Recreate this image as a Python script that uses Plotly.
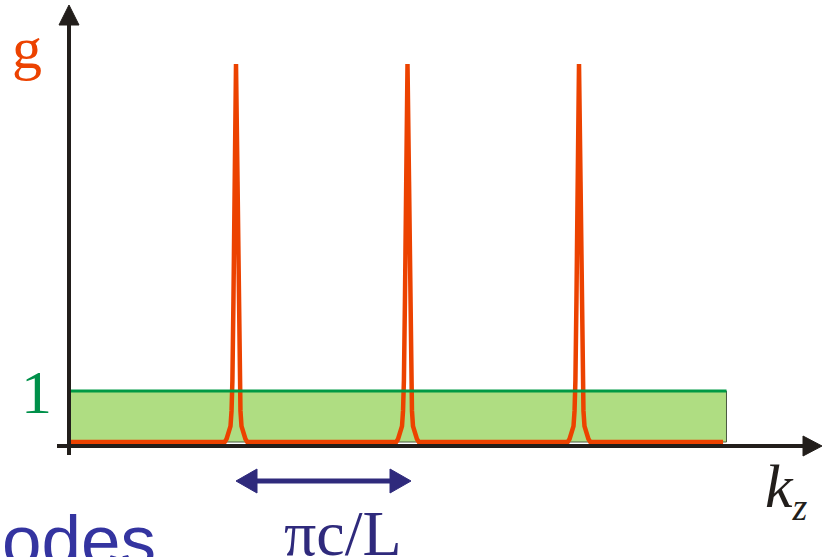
import plotly.graph_objects as go

# ---- data ----
peak_centers = [1.0, 2.0, 3.0]                      # mode positions in units of pi*c/L
profile_dk = [-0.066, -0.055, -0.044, -0.032, -0.026, -0.021, -0.015, -0.009, 0.0,
              0.009, 0.015, 0.021, 0.026, 0.032, 0.044, 0.055, 0.066]
profile_g = [0.0, 0.06, 0.16, 0.31, 0.61, 1.2, 2.76, 5.1, 7.41,
             5.1, 2.76, 1.2, 0.61, 0.31, 0.16, 0.06, 0.0]
band_k = [0.02, 3.86]       # gain band extent
band_g = 1.0                # gain level "1"
base_k = [0.02, 3.84]       # red baseline extent

W, H = 822, 557
PX_PER_K = 171.5
PX_PER_G = 51.0
K0_PX = 236 - PX_PER_K      # pixel x of k=0
G0_PX = 442                 # pixel y of g=0

def k(px):
    return (px - K0_PX) / PX_PER_K

def g(py):
    return (G0_PX - py) / PX_PER_G

RED = "#EC4200"
GREEN_TXT = "#00904A"
NAVY = "#2F2A7C"
BLACK = "#221E1B"

# build red curve: baseline with the three sharp peaks
cx, cy = [base_k[0]], [0.0]
for c in peak_centers:
    for dk, gv in zip(profile_dk, profile_g):
        cx.append(c + dk)
        cy.append(gv)
cx.append(base_k[1]); cy.append(0.0)

fig = go.Figure()

# green gain band
fig.add_shape(type="rect", x0=band_k[0], x1=band_k[1], y0=0, y1=band_g,
              fillcolor="#AFDD82", line=dict(color="#4A5A40", width=1), layer="below")
fig.add_shape(type="line", x0=band_k[0], x1=band_k[1], y0=band_g, y1=band_g,
              line=dict(color="#009A44", width=3))

fig.add_trace(go.Scatter(x=cx, y=cy, mode="lines",
                         line=dict(color=RED, width=4.5), hoverinfo="skip", showlegend=False))

# axes (drawn arrows)
ax_y = g(446)
fig.add_shape(type="line", x0=k(57), x1=k(805), y0=ax_y, y1=ax_y,
              line=dict(color=BLACK, width=4))
fig.add_shape(type="path",
              path=f"M {k(803)} {g(436)} L {k(822)} {ax_y} L {k(803)} {g(456)} Z",
              fillcolor=BLACK, line=dict(color=BLACK, width=1))
ax_x = k(69)
fig.add_shape(type="line", x0=ax_x, x1=ax_x, y0=g(455), y1=g(23),
              line=dict(color=BLACK, width=4))
fig.add_shape(type="path",
              path=f"M {k(59)} {g(25)} L {ax_x} {g(5)} L {k(79)} {g(25)} Z",
              fillcolor=BLACK, line=dict(color=BLACK, width=1))

# double arrow for mode spacing
ay = g(481)
fig.add_shape(type="line", x0=k(254), x1=k(393), y0=ay, y1=ay,
              line=dict(color=NAVY, width=5))
fig.add_shape(type="path",
              path=f"M {k(257)} {g(469)} L {k(236)} {ay} L {k(257)} {g(493)} Z",
              fillcolor=NAVY, line=dict(color=NAVY, width=1))
fig.add_shape(type="path",
              path=f"M {k(390)} {g(469)} L {k(411)} {ay} L {k(390)} {g(493)} Z",
              fillcolor=NAVY, line=dict(color=NAVY, width=1))

serif = "Liberation Serif"
fig.add_annotation(x=k(27), y=g(48), text="g", showarrow=False,
                   font=dict(family=serif, size=60, color=RED), xanchor="center", yanchor="middle")
fig.add_annotation(x=k(36), y=g(392), text="1", showarrow=False,
                   font=dict(family=serif, size=62, color=GREEN_TXT), xanchor="center", yanchor="middle")
fig.add_annotation(x=k(343), y=g(533), text="πc/L", showarrow=False,
                   font=dict(family=serif, size=64, color=NAVY), xanchor="center", yanchor="middle")
fig.add_annotation(x=k(786), y=g(490),
                   text="<i>k</i><sub><i><span style='font-size:38px'>z</span></i></sub>",
                   showarrow=False,
                   font=dict(family=serif, size=62, color=BLACK), xanchor="center", yanchor="middle")
fig.add_annotation(x=k(158), y=g(540), text="odes", showarrow=False,
                   font=dict(family="Liberation Sans", size=71, color="#3434A0"),
                   xanchor="right", yanchor="middle")

fig.update_layout(
    width=W, height=H, margin=dict(l=0, r=0, t=0, b=0),
    paper_bgcolor="white", plot_bgcolor="white",
    xaxis=dict(range=[k(0), k(W)], visible=False, fixedrange=True),
    yaxis=dict(range=[g(H), g(0)], visible=False, fixedrange=True),
    showlegend=False,
)
fig.write_html("out.html", config={"displayModeBar": False},
               post_script="document.body.style.margin='0';document.body.style.overflow='hidden';")
